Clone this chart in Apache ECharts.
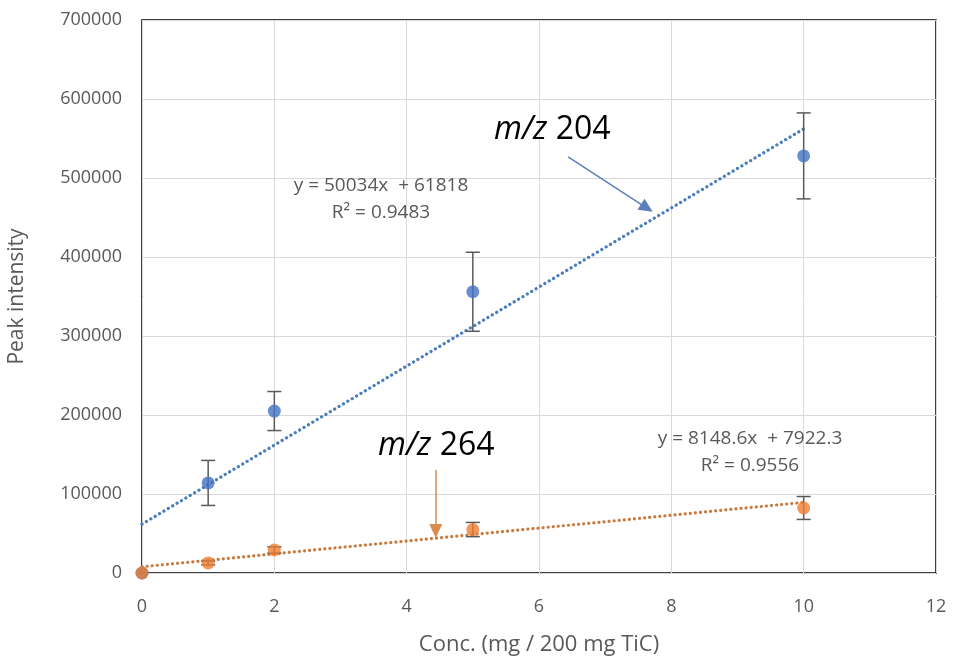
<!DOCTYPE html>
<html lang="en">
<head>
	<meta charset="UTF-8">
	<title>Peak intensity vs conc.</title>
</head>
<style>
	html, body { margin: 0; padding: 0; background: #fff; }
	#main {
		width: 954px;
		height: 659px;
	}
</style>
<body>
	<div id="main"></div>
	<script src="https://cdn.jsdelivr.net/npm/echarts@6/dist/echarts.min.js"></script>
	<script>
	// concentrations (mg / 200 mg TiC)
	var conc = [0, 1, 2, 5, 10];
	// m/z 204 mean peak intensity and error
	var mz204 = [0, 114000, 205000, 356000, 528000];
	var mz204Err = [0, 28500, 24700, 50000, 54400];
	// m/z 264 mean peak intensity and error
	var mz264 = [0, 12700, 29100, 55000, 82300];
	var mz264Err = [0, 2500, 4000, 9000, 14500];
	// trendline end points (from the fitted equations)
	var trend204 = [[0, 61818], [10, 562158]];
	var trend264 = [[0, 7922.3], [10, 89408.3]];

	var BLUE = '#4472c4', ORANGE = '#ed7d31', GRAY = '#595959';
	var FONT = '"Open Sans", "Noto Sans", sans-serif';

	function pairs(xs, ys) {
		return xs.map(function (x, i) { return [x, ys[i]]; });
	}
	function errData(xs, ys, es) {
		return xs.map(function (x, i) { return [x, ys[i] - es[i], ys[i] + es[i]]; });
	}

	// error bars drawn from data coords
	function renderErr(params, api) {
		if (api.value(2) - api.value(1) <= 0) return;
		var lo = api.coord([api.value(0), api.value(1)]);
		var hi = api.coord([api.value(0), api.value(2)]);
		var w = 7;
		var st = { stroke: GRAY, lineWidth: 1.5 };
		return {
			type: 'group',
			children: [
				{ type: 'line', shape: { x1: lo[0], y1: lo[1], x2: hi[0], y2: hi[1] }, style: st },
				{ type: 'line', shape: { x1: lo[0] - w, y1: lo[1], x2: lo[0] + w, y2: lo[1] }, style: st },
				{ type: 'line', shape: { x1: hi[0] - w, y1: hi[1], x2: hi[0] + w, y2: hi[1] }, style: st }
			]
		};
	}

	var myChart = echarts.init(document.getElementById('main'));
	var option = {
		animation: false,
		grid: {
			left: 142, right: 18, top: 20, bottom: 86,
			outerBoundsMode: 'none',
			show: true, borderColor: '#000', borderWidth: 1.5
		},
		xAxis: {
			type: 'value', min: 0, max: 12, interval: 2,
			name: 'Conc. (mg / 200 mg TiC)',
			nameLocation: 'middle', nameGap: 61,
			nameTextStyle: { color: GRAY, fontSize: 22, fontFamily: FONT },
			axisLine: { show: false },
			axisTick: { show: false },
			axisLabel: { color: GRAY, fontSize: 18, fontFamily: FONT, margin: 25 },
			splitLine: { lineStyle: { color: '#d9d9d9', width: 1 } }
		},
		yAxis: {
			type: 'value', min: 0, max: 700000, interval: 100000,
			name: 'Peak intensity',
			nameLocation: 'middle', nameGap: 114,
			nameTextStyle: { color: GRAY, fontSize: 21, fontFamily: FONT },
			axisLine: { show: false },
			axisTick: { show: false },
			axisLabel: {
				color: GRAY, fontSize: 18, fontFamily: FONT, margin: 20,
				formatter: function (v) { return String(v); }
			},
			splitLine: { lineStyle: { color: '#d9d9d9', width: 1 } }
		},
		series: [
			{
				type: 'line', data: trend204, symbol: 'none', z: 3,
				lineStyle: { color: '#4a7ebb', width: 3.2, type: [0.1, 5], cap: 'round' },
				markLine: {
					silent: true, symbol: ['none', 'triangle'], symbolSize: [13, 14],
					label: { show: false },
					lineStyle: { color: '#5b7fb8', width: 1.5, type: 'solid' },
					itemStyle: { color: BLUE },
					data: [[{ coord: [6.44, 526600] }, { coord: [7.63, 462000] }]]
				}
			},
			{
				type: 'line', data: trend264, symbol: 'none', z: 3,
				lineStyle: { color: '#c97a3e', width: 3.2, type: [0.1, 5], cap: 'round' },
				markLine: {
					silent: true, symbol: ['none', 'triangle'], symbolSize: [13, 14],
					label: { show: false },
					lineStyle: { color: '#d98a4f', width: 1.5, type: 'solid' },
					itemStyle: { color: ORANGE },
					data: [[{ coord: [4.44, 130400] }, { coord: [4.44, 53200] }]]
				}
			},
			{
				type: 'custom', renderItem: renderErr, z: 4,
				data: errData(conc, mz204, mz204Err)
			},
			{
				type: 'custom', renderItem: renderErr, z: 4,
				data: errData(conc, mz264, mz264Err)
			},
			{
				type: 'scatter', data: pairs(conc, mz204), symbolSize: 13, z: 5,
				itemStyle: { color: BLUE }
			},
			{
				type: 'scatter', data: pairs(conc, mz264), symbolSize: 13, z: 6,
				itemStyle: { color: ORANGE }
			}
		],
		graphic: [
			{
				type: 'text', left: 494, top: 114, z: 10,
				style: {
					text: '{i|m/z}{n| 204}',
					rich: {
						i: { fontSize: 32, fontStyle: 'italic', fontFamily: FONT, fill: '#000' },
						n: { fontSize: 32, fontFamily: FONT, fill: '#000' }
					}
				}
			},
			{
				type: 'text', left: 378, top: 430, z: 10,
				style: {
					text: '{i|m/z}{n| 264}',
					rich: {
						i: { fontSize: 32, fontStyle: 'italic', fontFamily: FONT, fill: '#000' },
						n: { fontSize: 32, fontFamily: FONT, fill: '#000' }
					}
				}
			},
			{
				type: 'text', x: 381, y: 199, z: 10,
				style: {
					text: 'y = 50034x  + 61818\nR² = 0.9483',
					fill: GRAY, font: '19px ' + FONT, align: 'center',
					verticalAlign: 'middle', lineHeight: 27
				}
			},
			{
				type: 'text', x: 750, y: 452, z: 10,
				style: {
					text: 'y = 8148.6x  + 7922.3\nR² = 0.9556',
					fill: GRAY, font: '19px ' + FONT, align: 'center',
					verticalAlign: 'middle', lineHeight: 27
				}
			}
		]
	};
	myChart.setOption(option);
	</script>
</body>
</html>
